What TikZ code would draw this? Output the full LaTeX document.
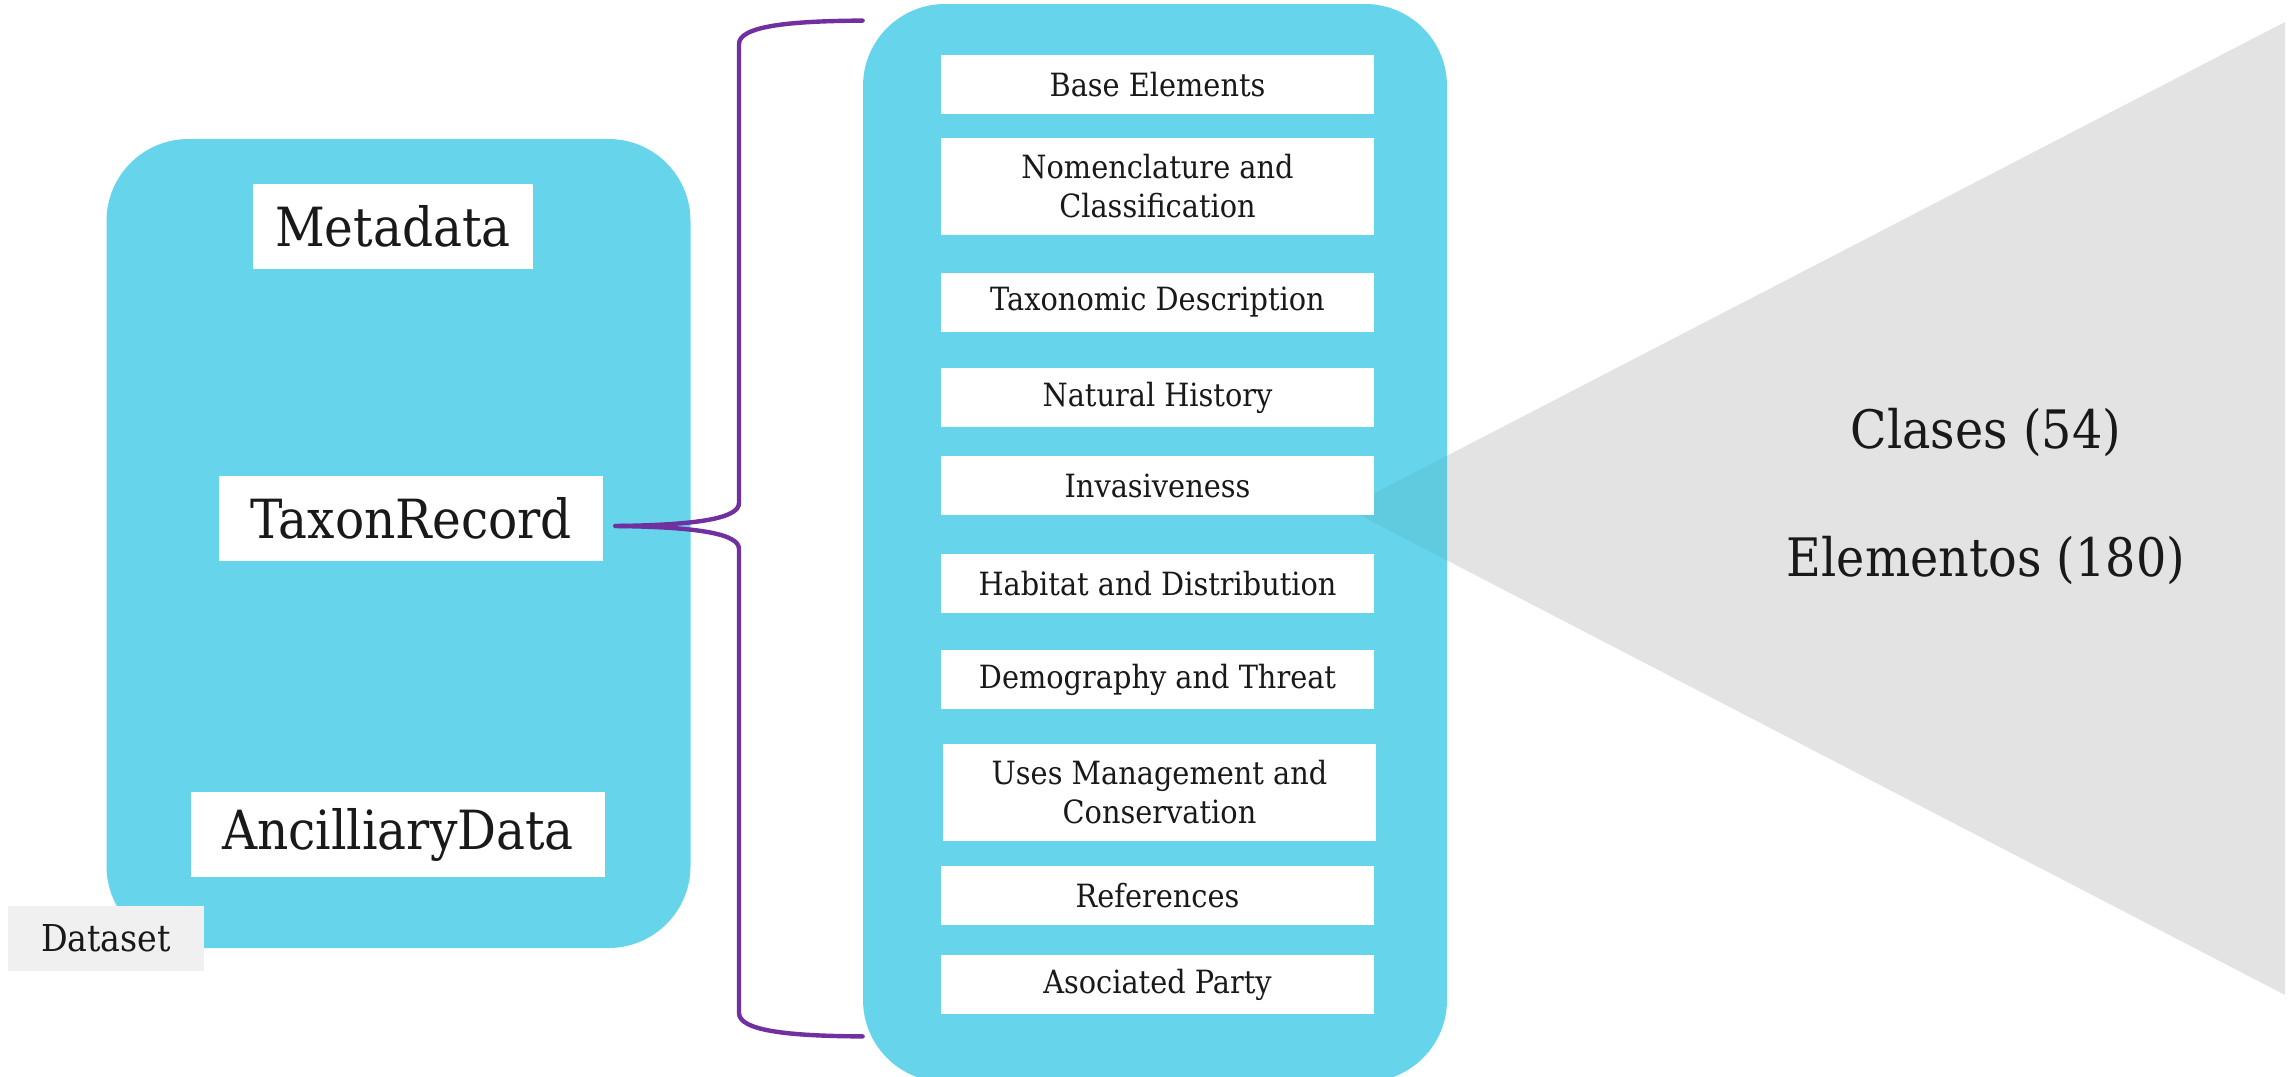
\documentclass[tikz,border=0pt]{standalone}
\usepackage{fontspec}
\setmainfont{DejaVu Serif}[FakeStretch=0.9]
\definecolor{skyblue}{HTML}{66D5EB}
\definecolor{bracepurple}{HTML}{7030A0}
\definecolor{tabgray}{HTML}{F0F0F0}
\definecolor{conegray}{HTML}{E3E3E3}
\tikzset{
  panel/.style={fill=skyblue,rounded corners=41pt,minimum width=292pt,inner sep=0pt},
  bigbox/.style={fill=white,text=black!90,minimum height=42.5pt,inner sep=0pt,font=\fontsize{27}{32}\selectfont},
  itembox/.style={fill=white,text=black!90,minimum width=216.5pt,minimum height=29.5pt,inner sep=0pt,align=center,font=\fontsize{16}{19.5}\selectfont},
  tallbox/.style={itembox,minimum height=48.5pt},
  bracket/.style={draw=bracepurple,line width=2.2pt,line cap=round},
  counts/.style={text=black!90,font=\fontsize{26.5}{32}\selectfont}
}
\begin{document}
\begin{tikzpicture}[x=0.5pt,y=-0.5pt]
\useasboundingbox (0,0) rectangle (2295,1076);
\fill[conegray](1346,508)--(2285,22)--(2285,995)--cycle;
\node[panel,minimum height=404.5pt](datasetpanel) at (398.5,543.5){};
\node[panel,minimum height=539pt](classpanel) at (1155,543){};
\fill[black,opacity=0.05](1346,508)--(1447,455.7)--(1447,560.3)--cycle;
\node[bigbox,minimum width=140pt](metadata) at (393,226.5){Metadata};
\node[bigbox,minimum width=192pt](taxon) at (411,518.5){TaxonRecord};
\node[bigbox,minimum width=207pt](ancillary) at (398,834.5){AncilliaryData};
\node[fill=tabgray,text=black!90,minimum width=98pt,minimum height=32.5pt,inner sep=0pt,font=\fontsize{18.5}{22}\selectfont](datasetlabel) at (106,938.5){Dataset};
\node[itembox](base) at (1157.5,84.5){Base Elements};
\node[tallbox](nomen) at (1157.5,186.5){Nomenclature and\\Classification};
\node[itembox](taxdesc) at (1157.5,302.5){Taxonomic Description};
\node[itembox](nathist) at (1157.5,397.5){Natural History};
\node[itembox](invasive) at (1157.5,485.5){Invasiveness};
\node[itembox](habitat) at (1157.5,583.5){Habitat and Distribution};
\node[itembox](demography) at (1157.5,679.5){Demography and Threat};
\node[tallbox](uses) at (1159.5,792.5){Uses Management and\\Conservation};
\node[itembox](refs) at (1157.5,895.5){References};
\node[itembox](party) at (1157.5,984.5){Asociated Party};
\coordinate(tip) at ([shift={(6pt,-3.75pt)}]taxon.east);
\coordinate(bracetop) at ([yshift=-8.5pt]classpanel.north west);
\coordinate(bracebot) at ([yshift=23pt]classpanel.south west);
\draw[bracket](tip)..controls(700,525)and(739,518)..(739,503)--(739,44)..controls(739,26)and(790,21)..(bracetop);
\draw[bracket](tip)..controls(700,527)and(739,534)..(739,549)--(739,1013)..controls(739,1031)and(790,1036)..(bracebot);
\node[counts](clases) at (1986,432){Clases (54)};
\node[counts](elementos) at (1986,560){Elementos (180)};
\end{tikzpicture}
\end{document}
